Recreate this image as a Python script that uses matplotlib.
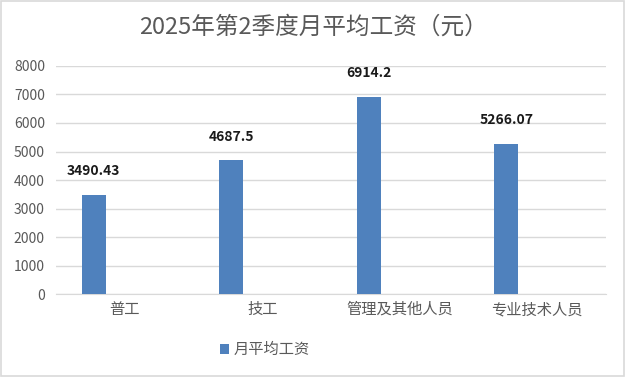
import matplotlib
matplotlib.use("Agg")
import matplotlib.pyplot as plt
from matplotlib.patches import Rectangle

plt.rcParams['font.family'] = ['Noto Sans CJK SC', 'DejaVu Sans']

title = "2025年第2季度月平均工资（元）"
categories = ["普工", "技工", "管理及其他人员", "专业技术人员"]
values = [3490.43, 4687.5, 6914.2, 5266.07]
labels = ["3490.43", "4687.5", "6914.2", "5266.07"]
series_name = "月平均工资"
yticks = [0, 1000, 2000, 3000, 4000, 5000, 6000, 7000, 8000]

bar_color = "#4f81bd"
text_color = "#595959"

fig = plt.figure(figsize=(6.26, 3.77), dpi=100)
fig.patch.set_facecolor("white")
fig.patches.append(Rectangle((0.002, 0.003), 0.995, 0.994, transform=fig.transFigure,
                             fill=False, edgecolor="#d9d9d9", linewidth=1.2))

ax = fig.add_axes([0.0895, 0.22, 0.8785, 0.605])
x = list(range(len(categories)))
xb = [i - 0.225 for i in x]
bars = ax.bar(xb, values, width=0.175, color=bar_color, label=series_name, zorder=3)

for xi, v, lab in zip(xb, values, labels):
    ax.annotate(lab, (xi, v), xytext=(0, 12), textcoords="offset points",
                ha="center", va="bottom", fontsize=10, fontweight="bold", color="#1a1a1a")

ax.set_xlim(-0.5, len(categories) - 0.5)
ax.set_ylim(0, 8000)
ax.set_yticks(yticks)
ax.set_yticklabels([str(t) for t in yticks], fontsize=10, color=text_color)
ax.set_xticks(x)
ax.set_xticklabels(categories, fontsize=11, color=text_color)
ax.tick_params(axis="y", length=0, pad=8)
ax.tick_params(axis="x", length=0, pad=5)
ax.grid(axis="y", color="#d9d9d9", linewidth=1, zorder=0)
for s in ["top", "right", "left"]:
    ax.spines[s].set_visible(False)
ax.spines["bottom"].set_color("#d9d9d9")

fig.text(0.5, 0.928, title, ha="center", va="center", fontsize=17, color=text_color)

leg = fig.legend(handles=[bars], labels=[series_name], loc="center", bbox_to_anchor=(0.423, 0.072),
                 frameon=False, fontsize=11, handlelength=0.6, handleheight=0.6, handletextpad=0.3)
for t in leg.get_texts():
    t.set_color(text_color)

fig.savefig("out.png", dpi=100)
